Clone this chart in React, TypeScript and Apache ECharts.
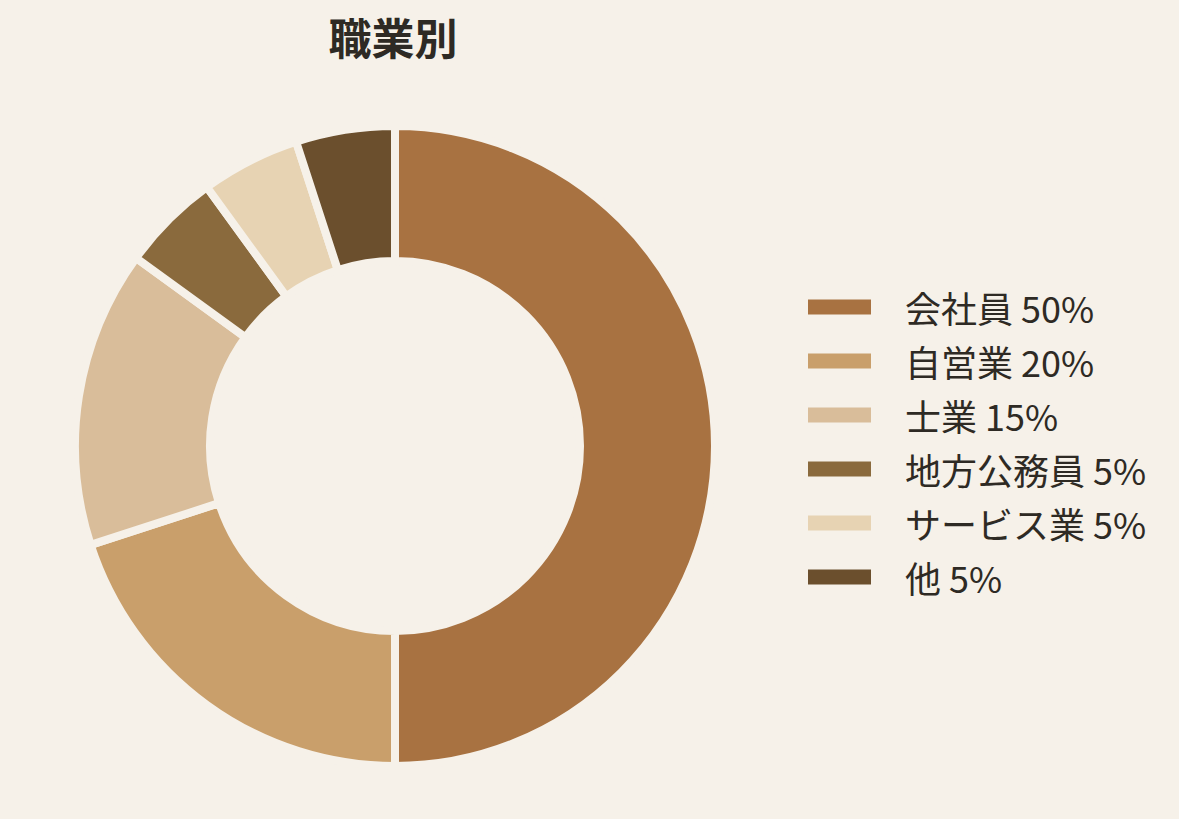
import { useEffect, useRef } from 'react'
import * as echarts from 'echarts'

const categories = ['会社員', '自営業', '士業', '地方公務員', 'サービス業', '他']
const shares = [50, 20, 15, 5, 5, 5]
const sliceColors = ['#a87241', '#c99f6b', '#d9bd9a', '#8a6a3d', '#e7d3b3', '#6b4f2d']

const BG = '#f6f1e9'
const INK = '#2e2a24'
const FONT = '"Noto Sans CJK JP", "Noto Sans", sans-serif'

export default function App() {
  const chartRef = useRef<HTMLDivElement | null>(null)

  useEffect(() => {
    document.body.style.margin = '0'
    if (!chartRef.current) return
    const chart = echarts.init(chartRef.current, undefined, { renderer: 'svg' })

    chart.setOption({
      animation: false,
      backgroundColor: BG,
      title: {
        text: '職業別',
        left: 393,
        textAlign: 'center',
        top: 14,
        padding: 0,
        textStyle: { fontFamily: FONT, fontSize: 43, fontWeight: 'bold', color: INK }
      },
      legend: {
        orient: 'vertical',
        left: 806,
        top: 289,
        padding: 0,
        itemWidth: 65,
        itemHeight: 17,
        itemGap: 18,
        icon: 'rect',
        formatter: (name: string) => {
          const i = categories.indexOf(name)
          return `${name} ${shares[i]}%`
        },
        textStyle: {
          fontFamily: FONT,
          fontSize: 36,
          color: INK,
          lineHeight: 36,
          padding: [0, 0, 0, 28]
        }
      },
      series: [
        {
          type: 'pie',
          center: [395, 446],
          radius: [185, 320],
          startAngle: 90,
          clockwise: true,
          label: { show: false },
          labelLine: { show: false },
          emphasis: { disabled: true },
          itemStyle: { borderColor: BG, borderWidth: 8 },
          data: categories.map((name, i) => ({
            name,
            value: shares[i],
            itemStyle: { color: sliceColors[i] }
          }))
        }
      ]
    })

    return () => chart.dispose()
  }, [])

  return <div ref={chartRef} style={{ width: 1179, height: 819 }} />
}
